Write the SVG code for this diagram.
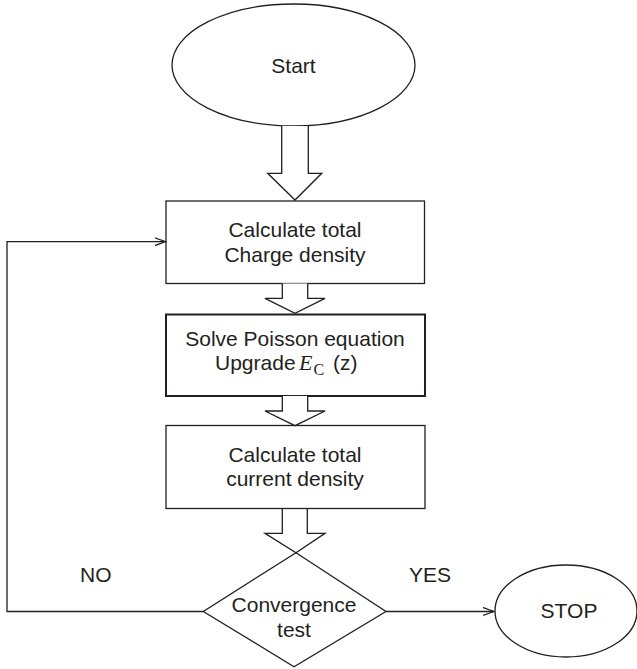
<svg xmlns="http://www.w3.org/2000/svg" width="637" height="669" viewBox="0 0 637 669">
<style>
.s{fill:#fff;stroke:#231f20;stroke-width:1.3}
.b{fill:#fff;stroke:#231f20;stroke-width:2}
.l{fill:none;stroke:#231f20;stroke-width:1.3}
.t{font-family:"Liberation Sans",Arial,sans-serif;font-size:21px;fill:#231f20;text-anchor:middle}
</style>
<defs>
<marker id="open" viewBox="0 0 12 10" refX="11" refY="5" markerWidth="12" markerHeight="10" markerUnits="userSpaceOnUse" orient="auto">
<path d="M0,1 L11,5 L0,9" fill="none" stroke="#231f20" stroke-width="1.3"/>
</marker>
</defs>
<g id="start">
<ellipse class="s" cx="293.5" cy="65" rx="121.5" ry="61"/>
<text class="t" x="293.5" y="72.5">Start</text>
</g>
<g id="charge">
<rect class="s" x="166" y="201" width="258.5" height="82.5"/>
<text class="t" x="295" y="236.7">Calculate total</text>
<text class="t" x="295" y="262.3">Charge density</text>
</g>
<g id="poisson">
<rect class="b" x="166" y="314.5" width="259" height="81.5"/>
<text class="t" x="295" y="345.7">Solve Poisson equation</text>
<text class="t" y="370" style="text-anchor:start"><tspan x="215">Upgrade</tspan><tspan x="299" font-family="Liberation Serif,serif" font-style="italic" font-size="22">E</tspan><tspan x="313.5" dy="4.5" font-family="Liberation Serif,serif" font-size="16">C</tspan><tspan x="333" dy="-4.5">(z)</tspan></text>
</g>
<g id="current">
<rect class="s" x="166" y="425.5" width="259" height="83"/>
<text class="t" x="295" y="461.7">Calculate total</text>
<text class="t" x="295" y="486">current density</text>
</g>
<g id="test">
<polygon class="s" points="296,552.7 386,611.5 294,666.7 203.3,611.5"/>
<text class="t" x="294" y="612">Convergence</text>
<text class="t" x="294" y="636.7">test</text>
</g>
<g id="stop">
<ellipse class="s" cx="566" cy="611" rx="71" ry="46"/>
<text class="t" x="569" y="618.3">STOP</text>
</g>
<g id="connectors">
<path class="s" d="M281.7,126 V173.3 H267.7 L295,200 L321.7,173.3 H308.3 V126"/>
<path class="s" d="M282.3,283.5 V298.3 H265 L295,313.3 L325,298.3 H307.7 V283.5"/>
<path class="s" d="M282.3,396 V411 H265 L295,425.7 L325,411 H307.7 V396"/>
<path class="l" d="M282.3,508.5 V533.3 H265 L296,552.7 L325,533.3 H307.3 V508.5"/>
<path class="l" d="M203.3,611.5 H7 V241.7 H165.5" marker-end="url(#open)"/>
<path class="l" d="M386,611.5 H494" marker-end="url(#open)"/>
<text class="t" x="95.8" y="582.3">NO</text>
<text class="t" x="430" y="581.7">YES</text>
</g>
</svg>
